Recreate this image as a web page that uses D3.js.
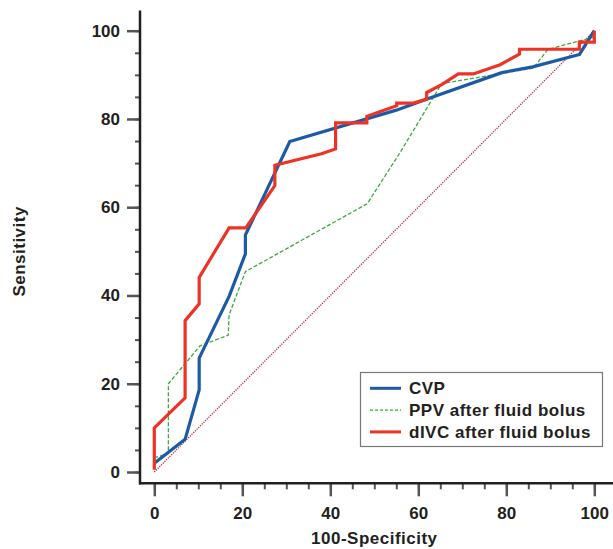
<!DOCTYPE html>
<html>
<head>
<meta charset="utf-8">
<script src="https://cdn.jsdelivr.net/npm/d3@7"></script>
<style>
  body { margin: 0; background: #fff; }
  text { font-family: "Liberation Sans", Arial, sans-serif; font-weight: bold; fill: #231f20; }
</style>
</head>
<body>
<svg width="613" height="549"></svg>
<script>
var svg = d3.select("svg");

// ROC curves, [100-specificity, sensitivity]
var cvp = [[0,2],[7,7.4],[10.2,18.6],[10.2,25.8],[17,39.8],[20.7,49.4],[20.7,53.7],
  [30.8,74.9],[55,82],[62,84.5],[79,90.5],[86,91.8],[96.6,94.6],[100,100]];
var ppv = [[0,3.2],[3.2,4.2],[3.2,20],[10.4,28.6],[16.8,31],[17,35.6],[20.7,45.4],
  [48.4,60.8],[55.8,72.3],[65.3,88],[86.1,91.5],[89.5,95.8],[99.8,98.5],[100,100]];
var divc = [[0,0.5],[0,10],[7,16.8],[7,34.3],[10.2,38.1],[10.2,44.1],[17,55.3],[20.8,55.3],
  [27.4,64.9],[27.4,69.5],[38,72.1],[41.2,73.2],[41.2,79.1],[48.3,79.1],[48.3,80.6],
  [55.1,83],[55.1,83.6],[58.9,83.6],[61.9,84.5],[61.9,86],[65.3,87.8],[69.1,90.2],
  [72.5,90.2],[78.6,92.3],[83,94.7],[83,95.8],[96.6,95.8],[96.6,97.4],[100,97.4],[100,100]];
var diagonal = [[0,0],[100,100]];

var seriesNames = ["CVP", "PPV after fluid bolus", "dIVC after fluid bolus"];
var majorTicks = [0, 20, 40, 60, 80, 100];
var minorTicks = d3.range(0, 101, 5);

var x = d3.scaleLinear().domain([0, 100]).range([154.3, 594.3]),
    y = d3.scaleLinear().domain([0, 100]).range([472, 30.7]);

var line = d3.line()
    .x(function(d) { return x(d[0]); })
    .y(function(d) { return y(d[1]); });

// axes: minor then major ticks
svg.append("g")
    .attr("transform", "translate(140,0)")
    .call(d3.axisLeft(y).tickValues(minorTicks).tickSize(5).tickFormat(""))
    .call(function(g) { g.select(".domain").remove(); g.selectAll("line").attr("stroke", "#555").attr("stroke-width", 2); });
svg.append("g")
    .attr("transform", "translate(140,0)")
    .call(d3.axisLeft(y).tickValues(majorTicks).tickSize(13).tickPadding(7))
    .call(function(g) {
      g.select(".domain").remove();
      g.selectAll("line").attr("stroke", "#555").attr("stroke-width", 2.5);
      g.selectAll("text").style("font-size", "17px").attr("fill", "#231f20");
    });

svg.append("g")
    .attr("transform", "translate(0,483.3)")
    .call(d3.axisBottom(x).tickValues(minorTicks).tickSize(6).tickFormat(""))
    .call(function(g) { g.select(".domain").remove(); g.selectAll("line").attr("stroke", "#555").attr("stroke-width", 2); });
svg.append("g")
    .attr("transform", "translate(0,483.3)")
    .call(d3.axisBottom(x).tickValues(majorTicks).tickSize(13).tickPadding(11))
    .call(function(g) {
      g.select(".domain").remove();
      g.selectAll("line").attr("stroke", "#555").attr("stroke-width", 2.5);
      g.selectAll("text").style("font-size", "17px").attr("fill", "#231f20");
    });

// axis lines
svg.append("line").attr("x1", 140).attr("x2", 140).attr("y1", 10.5).attr("y2", 484.5)
    .attr("stroke", "#231f20").attr("stroke-width", 2.5);
svg.append("line").attr("x1", 139).attr("x2", 613).attr("y1", 483.3).attr("y2", 483.3)
    .attr("stroke", "#231f20").attr("stroke-width", 2.5);

// diagonal reference
svg.append("path").datum(diagonal)
    .attr("d", line).attr("fill", "none")
    .attr("stroke", "#b3263a").attr("stroke-width", 1.3).attr("stroke-dasharray", "1.2,1.2");

svg.append("path").datum(ppv)
    .attr("d", line).attr("fill", "none")
    .attr("stroke", "#3aaa3a").attr("stroke-width", 1.3).attr("stroke-dasharray", "4,2");

svg.append("path").datum(cvp)
    .attr("d", line).attr("fill", "none")
    .attr("stroke", "#1c5aa6").attr("stroke-width", 3.2).attr("stroke-linejoin", "round");

svg.append("path").datum(divc)
    .attr("d", line).attr("fill", "none")
    .attr("stroke", "#ee3226").attr("stroke-width", 3.2);

// titles
svg.append("text")
    .attr("x", x(50)).attr("y", 544)
    .attr("text-anchor", "middle").style("font-size", "17px").style("letter-spacing", "0.5px")
    .text("100-Specificity");
svg.append("text")
    .attr("transform", "translate(25," + y(50) + ") rotate(-90)")
    .attr("text-anchor", "middle").style("font-size", "17px").style("letter-spacing", "0.5px")
    .text("Sensitivity");

// legend
var legend = svg.append("g");
legend.append("rect")
    .attr("x", 360.5).attr("y", 372.5).attr("width", 242).attr("height", 74)
    .attr("fill", "#fff").attr("stroke", "#777").attr("stroke-width", 1.2);

var styles = [
  {stroke: "#1c5aa6", width: 3, dash: null},
  {stroke: "#22bb22", width: 1.3, dash: "3,2"},
  {stroke: "#ee3226", width: 3, dash: null}
];
seriesNames.forEach(function(name, i) {
  var ly = 388.3 + i * 21.8;
  legend.append("line")
      .attr("x1", 370).attr("x2", 401).attr("y1", ly).attr("y2", ly)
      .attr("stroke", styles[i].stroke).attr("stroke-width", styles[i].width)
      .attr("stroke-dasharray", styles[i].dash);
  legend.append("text")
      .attr("x", 409).attr("y", ly + 6)
      .style("font-size", "17px").style("letter-spacing", "0.5px")
      .text(name);
});
</script>
</body>
</html>
